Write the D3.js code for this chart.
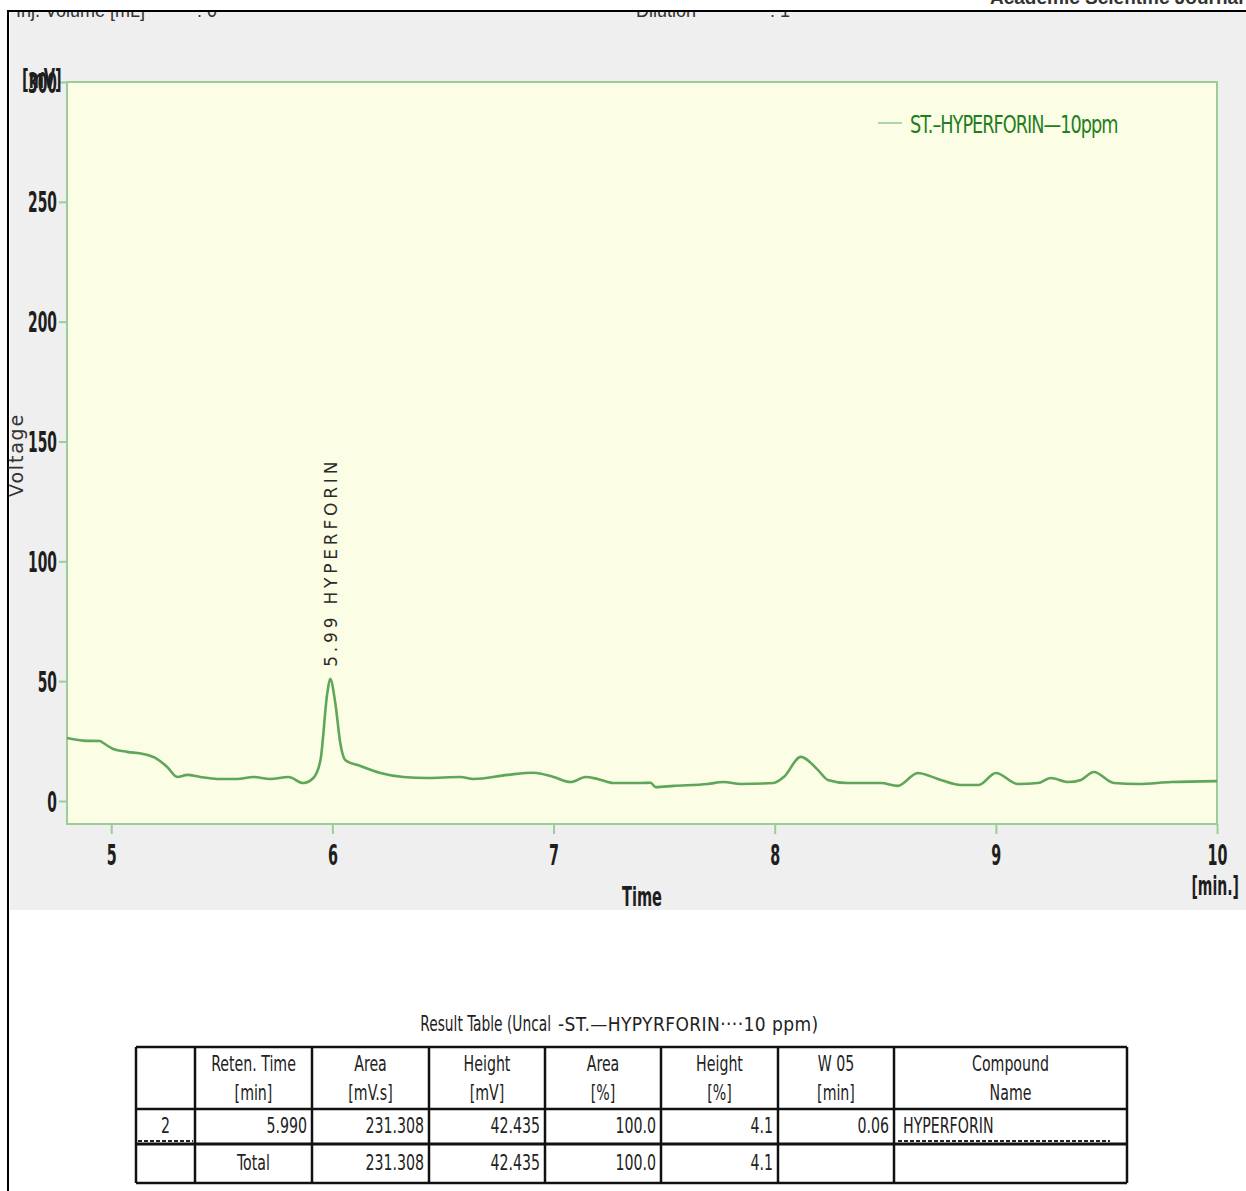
<!DOCTYPE html>
<html>
<head>
<meta charset="utf-8">
<script src="https://cdn.jsdelivr.net/npm/d3@7"></script>
<style>
  html, body { margin: 0; padding: 0; background: #ffffff; }
  svg { display: block; }
</style>
</head>
<body>
<svg id="chart" width="1246" height="1191"></svg>
<script>
// Chromatogram trace: retention time [min] and detector signal [mV]
const times = [4.80, 4.873, 4.95, 4.964, 5.009, 5.072, 5.145, 5.208, 5.253, 5.299, 5.344, 5.403, 5.480,
  5.570, 5.643, 5.719, 5.801, 5.869, 5.914, 5.946, 5.977, 5.99, 6.013, 6.036, 6.059, 6.127, 6.217,
  6.321, 6.430, 6.579, 6.638, 6.792, 6.910, 7.000, 7.077, 7.145, 7.199, 7.271, 7.394, 7.439, 7.462,
  7.543, 7.697, 7.769, 7.846, 7.995, 8.041, 8.118, 8.195, 8.240, 8.330, 8.480, 8.557, 8.647, 8.738,
  8.842, 8.923, 9.000, 9.100, 9.190, 9.249, 9.326, 9.385, 9.443, 9.534, 9.643, 9.792, 10.0];
const signal = [26.3, 25.2, 25.0, 24.2, 21.7, 20.5, 19.6, 17.5, 14.2, 10.0, 10.9, 10.0, 9.2,
  9.2, 10.0, 9.2, 10.0, 7.5, 9.6, 17.0, 45.0, 51.0, 41.0, 24.0, 17.0, 14.6, 11.7,
  10.0, 9.6, 10.0, 9.2, 10.9, 11.8, 10.0, 7.9, 10.0, 9.2, 7.5, 7.5, 7.6, 5.8,
  6.3, 7.1, 7.9, 7.1, 7.5, 10.0, 18.4, 13.0, 8.8, 7.5, 7.5, 6.3, 11.7, 9.2,
  6.7, 6.7, 11.7, 7.1, 7.5, 9.6, 7.9, 8.8, 12.1, 7.5, 7.1, 7.9, 8.3];

const xTicks = [5, 6, 7, 8, 9, 10];
const yTicks = [0, 50, 100, 150, 200, 250, 300];
const seriesName = "ST.\u2013HYPERFORIN\u201410ppm";
const peakLabels = [{ time: 5.99, height: 51.0, text: "5.99 HYPERFORIN" }];

// Result table
const tableTitle = ["Result Table (Uncal", "-ST.\u2014HYPYRFORIN\u00b7\u00b7\u00b7\u00b710 ppm)"];
const tableHeader1 = ["", "Reten. Time", "Area", "Height", "Area", "Height", "W 05", "Compound"];
const tableHeader2 = ["", "[min]", "[mV.s]", "[mV]", "[%]", "[%]", "[min]", "Name"];
const peakRow = ["2", "5.990", "231.308", "42.435", "100.0", "4.1", "0.06", "HYPERFORIN"];
const totalRow = ["", "Total", "231.308", "42.435", "100.0", "4.1", "", ""];

const svg = d3.select("#chart");
const W = 1246, H = 1191;
const COND = "DejaVu Sans Condensed, Liberation Sans Narrow, Arial Narrow, sans-serif";

// text squeezed horizontally, to get the report's very narrow lettering
function sText(parent, x, y, str, o) {
  const t = parent.append("text")
    .attr("transform", `translate(${x},${y}) scale(${o.sx || 1},1)`)
    .attr("font-family", o.family || COND)
    .attr("font-size", o.size || 20)
    .attr("font-weight", o.weight || "normal")
    .attr("text-anchor", o.anchor || "start")
    .attr("fill", o.fill || "#1e1e1e")
    .text(str);
  if (o.ls) t.attr("letter-spacing", o.ls);
  return t;
}

// grey report panel
svg.append("rect").attr("x", 10).attr("y", 12).attr("width", W - 10).attr("height", 898).attr("fill", "#efefef");

// report header line, partly hidden behind the frame
const hdrClip = svg.append("clipPath").attr("id", "hdrclip");
hdrClip.append("rect").attr("x", 10).attr("y", 12).attr("width", W).attr("height", 20);
const hdr = svg.append("g").attr("clip-path", "url(#hdrclip)");
const hdrOpts = { family: "Liberation Sans, Arial, sans-serif", size: 20, fill: "#333", sx: 0.9 };
sText(hdr, 16, 17, "Inj. Volume [mL]", hdrOpts);
sText(hdr, 197, 17, ": 0", hdrOpts);
sText(hdr, 636, 17, "Dilution", hdrOpts);
sText(hdr, 770, 17, ": 1", hdrOpts);
sText(svg, 990, 4, "Academic Scientific Journal",
  { family: "Liberation Sans, Arial, sans-serif", size: 19, weight: "bold", fill: "#333" });

svg.append("line").attr("x1", 8).attr("x2", W).attr("y1", 11).attr("y2", 11).attr("stroke", "#000").attr("stroke-width", 2);
svg.append("line").attr("x1", 8).attr("x2", 8).attr("y1", 10).attr("y2", H).attr("stroke", "#000").attr("stroke-width", 2);

// plot area
const plot = { left: 67, right: 1217, top: 82, bottom: 824 };
const x = d3.scaleLinear().domain([4.8, 10]).range([plot.left, plot.right]);
const y = d3.scaleLinear().domain([-9.6, 300]).range([plot.bottom, plot.top]);
const green = "#9ccc98";

svg.append("rect").attr("x", plot.left).attr("y", plot.top)
  .attr("width", plot.right - plot.left).attr("height", plot.bottom - plot.top)
  .attr("fill", "#fbfde4").attr("stroke", green).attr("stroke-width", 2);

// y axis
const ySx = 0.55;
const yAxis = svg.append("g").attr("transform", `translate(${plot.left},0)`)
  .call(d3.axisLeft(y).tickValues(yTicks).tickFormat(d3.format("d")).tickSize(8).tickSizeOuter(0));
yAxis.select(".domain").remove();
yAxis.selectAll("line").attr("stroke", green).attr("stroke-width", 2);
yAxis.selectAll("text").attr("font-family", COND).attr("font-size", 28).attr("fill", "#1e1e1e")
  .attr("font-weight", "bold").attr("dy", "0.36em")
  .attr("transform", `scale(${ySx},1)`).attr("x", -10 / ySx);

// unit label, printed over the 300 tick label as in the report
sText(svg, 22, 88, "[mV]", { size: 27, weight: "bold", sx: 0.6 });

// x axis
const xAxis = svg.append("g").attr("transform", `translate(0,${plot.bottom})`)
  .call(d3.axisBottom(x).tickValues(xTicks).tickFormat(d3.format("d")).tickSize(10).tickPadding(10).tickSizeOuter(0));
xAxis.select(".domain").remove();
xAxis.selectAll("line").attr("stroke", green).attr("stroke-width", 2);
xAxis.selectAll("text").attr("font-family", COND).attr("font-size", 29).attr("fill", "#1e1e1e")
  .attr("font-weight", "bold").attr("transform", "scale(0.55,1)");

sText(svg, 1239, 895, "[min.]", { size: 26, weight: "bold", sx: 0.6, anchor: "end" });
sText(svg, 642, 906, "Time", { size: 27, weight: "bold", sx: 0.6, anchor: "middle" });
svg.append("text").attr("transform", "translate(23,455) rotate(-90)")
  .attr("text-anchor", "middle").attr("font-family", "DejaVu Sans, Verdana, sans-serif")
  .attr("font-size", 19).attr("letter-spacing", 1.8).attr("fill", "#333").text("Voltage");

// trace
const clip = svg.append("clipPath").attr("id", "plotclip");
clip.append("rect").attr("x", plot.left).attr("y", plot.top)
  .attr("width", plot.right - plot.left).attr("height", plot.bottom - plot.top);
const pts = times.map((t, i) => [t, signal[i]]);
svg.append("path").datum(pts).attr("clip-path", "url(#plotclip)")
  .attr("fill", "none").attr("stroke", "#5da65a").attr("stroke-width", 2.6)
  .attr("stroke-linejoin", "round")
  .attr("d", d3.line().x(d => x(d[0])).y(d => y(d[1])).curve(d3.curveMonotoneX));

// peak annotation
peakLabels.forEach(p => {
  svg.append("text")
    .attr("transform", `translate(${x(p.time) + 7},${y(p.height) - 12}) rotate(-90)`)
    .attr("font-family", "DejaVu Sans, Verdana, sans-serif").attr("font-size", 17)
    .attr("letter-spacing", 3.8).attr("fill", "#2a2a2a").text(p.text);
});

// legend
svg.append("line").attr("x1", 878).attr("x2", 902).attr("y1", 123).attr("y2", 123)
  .attr("stroke", "#a9d8a5").attr("stroke-width", 2);
sText(svg, 910, 133, seriesName, { size: 24, ls: -1.2, sx: 0.82, fill: "#1f7f1f" });

// result table
sText(svg, 551, 1031, tableTitle[0], { size: 21, sx: 0.73, anchor: "end", fill: "#222" });
sText(svg, 558, 1031, tableTitle[1], { family: "DejaVu Sans Condensed, DejaVu Sans, sans-serif",
  size: 19, ls: 0.4, fill: "#222" });

const colEdges = [136, 195, 312, 429, 545, 661, 778, 894, 1127];
const rowEdges = [1047, 1109, 1144, 1183];
const tbl = svg.append("g");

function cellText(row, baseY, align) {
  row.forEach((v, i) => {
    if (!v) return;
    const l = colEdges[i], r = colEdges[i + 1];
    const a = align ? align[i] : "middle";
    const xx = a === "end" ? r - 5 : a === "start" ? l + 9 : (l + r) / 2;
    sText(tbl, xx, baseY, v, { size: 21, sx: 0.75, anchor: a, fill: "#222" });
  });
}
cellText(tableHeader1, 1071);
cellText(tableHeader2, 1100);
cellText(peakRow, 1133, ["middle", "end", "end", "end", "end", "end", "end", "start"]);
cellText(totalRow, 1170, ["middle", "middle", "end", "end", "end", "end", "end", "start"]);

// table rules
rowEdges.forEach(ry => {
  svg.append("line").attr("x1", colEdges[0]).attr("x2", colEdges[colEdges.length - 1])
    .attr("y1", ry).attr("y2", ry).attr("stroke", "#111").attr("stroke-width", ry === 1144 ? 3 : 2.5);
});
colEdges.forEach(cx => {
  svg.append("line").attr("x1", cx).attr("x2", cx).attr("y1", rowEdges[0]).attr("y2", rowEdges[rowEdges.length - 1])
    .attr("stroke", "#111").attr("stroke-width", 2.5);
});
// dotted peak markers under the first cell and the compound name
[[138, 193], [898, 1110]].forEach(([a, b]) => {
  svg.append("line").attr("x1", a).attr("x2", b).attr("y1", 1141).attr("y2", 1141)
    .attr("stroke", "#222").attr("stroke-width", 2).attr("stroke-dasharray", "4,2");
});
</script>
</body>
</html>
